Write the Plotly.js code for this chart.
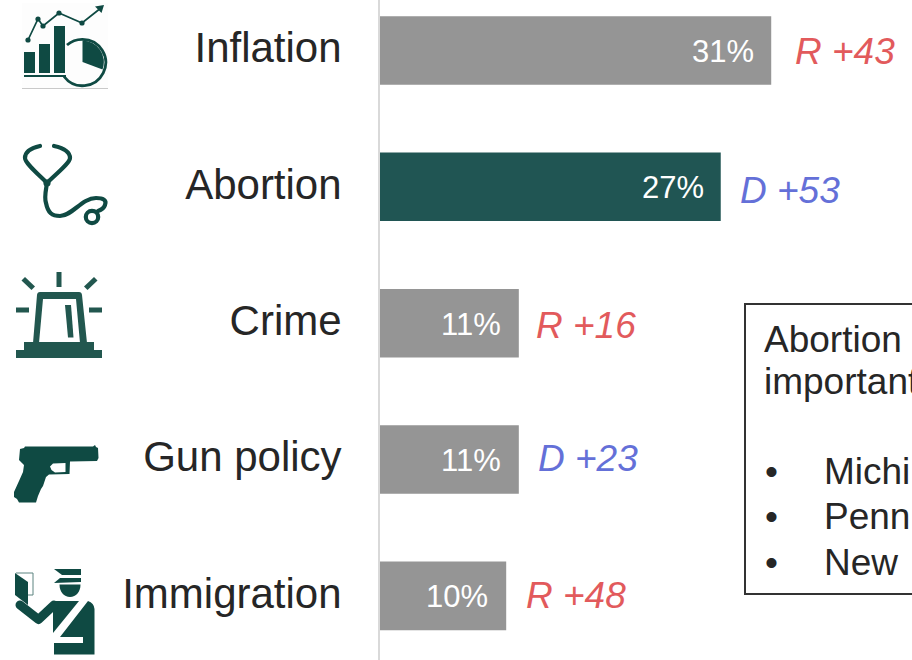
<!DOCTYPE html>
<html>
<head>
<meta charset="utf-8">
<script src="https://cdn.plot.ly/plotly-3.0.1.min.js"></script>
<style>html,body{margin:0;padding:0;background:#fff;overflow:hidden}</style>
</head>
<body>
<div id="chart" style="width:912px;height:660px"></div>
<script>
const categories = ["Inflation", "Abortion", "Crime", "Gun policy", "Immigration"];
const shares = [31, 27, 11, 11, 10];
const margins = ["R +43", "D +53", "R +16", "D +23", "R +48"];
const barColors = ["#959595", "#205553", "#959595", "#959595", "#959595"];
const noteLines = ["Abortion", "important"];
const noteBullets = ["Michi", "Penn", "New"];

const W = 912, H = 660, L = 380;
const px = x => (x - L) / (W - L);
const py = y => 1 - y / H;
const RED = "#E25A5C", BLUE = "#6470D8", INK = "#262626";
const FONT = '"Liberation Sans", Arial, sans-serif';
const C = "#0F4A43";

function icon(x, y, w, h, body) {
  const svg = `<svg xmlns="http://www.w3.org/2000/svg" width="${w*3}" height="${h*3}" viewBox="${x} ${y} ${w} ${h}">${body}</svg>`;
  return {
    source: "data:image/svg+xml;charset=utf-8," + encodeURIComponent(svg),
    xref: "paper", yref: "paper",
    x: px(x), y: py(y), sizex: w / (W - L), sizey: h / H,
    sizing: "stretch", xanchor: "left", yanchor: "top", layer: "above"
  };
}

const inflationIcon = `
<rect x="22" y="3" width="86" height="85" fill="#fdfdfd"/>
<path d="M22 88.5H108" stroke="#c9c9c9" stroke-width="1"/>
<g fill="${C}">
<rect x="24" y="52" width="11" height="21"/><rect x="39" y="44" width="11" height="29"/><rect x="54" y="26" width="11" height="47"/>
<rect x="24" y="75" width="42" height="2"/>
<path d="M82.5 40.5 L82.5 62 L102.5 69.5 A 21.5 21.5 0 0 0 82.5 40.5Z"/>
<circle cx="28" cy="40" r="2.6"/><circle cx="38" cy="19" r="2.6"/><circle cx="43" cy="26" r="2.6"/><circle cx="59" cy="13" r="2.6"/><circle cx="82" cy="23" r="2.6"/>
<path d="M104 5 L95 6.5 L101.5 13Z"/>
</g>
<path d="M28 40L38 19L43 26L59 13L82 23L99 9.5" fill="none" stroke="${C}" stroke-width="1.7"/>
<path d="M67 45 A 23.2 23.2 0 0 1 82.5 39.3 A 23.2 23.2 0 1 1 64 76.5" fill="none" stroke="${C}" stroke-width="2.8"/>`;

const abortionIcon = `
<g fill="none" stroke="${C}" stroke-width="4.2" stroke-linecap="round" stroke-linejoin="round">
<path d="M40 146 C31 148 25 152 25 158 C25 163 38 174 47 183 C56 174 70 163 70 158 C70 152 63 148 54 146"/>
<path d="M47 183 C46 190 44 197 46 203 C48 213 52 216 60 216 C72 216 82 198 96 198 C103 198 107 200 105 205 C104 208 101 210 98 211"/>
<circle cx="92" cy="217" r="6.2"/>
</g>
<circle cx="47" cy="183" r="3.6" fill="${C}"/>`;

const crimeC = "#22574F";
const crimeIcon = `
<g fill="${crimeC}">
<rect x="56.5" y="272" width="5" height="15"/><rect x="16" y="307.5" width="13" height="5"/><rect x="89" y="307.5" width="13" height="5"/>
<path d="M21.5 280.5L25 277L35 286.5L31.5 290Z"/><path d="M97.5 280.5L94 277L84 286.5L87.5 290Z"/>
<path fill-rule="evenodd" d="M33 343L37 295Q37.3 292 40 292H79Q81.7 292 82 295L87 343ZM39 343H80L76 299H43Z"/>
<path d="M65 305L71 305L73.5 337.5L68 337.5Z"/>
<rect x="24" y="342" width="70" height="9"/><rect x="16" y="350" width="86" height="8"/>
</g>`;

const gunIcon = `
<path fill="${C}" fill-rule="evenodd" d="M20 449L24 448L25 446.5L93 446.5L95 445L96 447L98 448L98.5 458L97 461L70 461.5L69.5 474L49 474.5L46 477L43 486L41 489L38 496L36 502.5L19 502.5L17 499L14 497L14 492L19 481L23 472L24 465L19 460ZM50 466.5L53 463.5L65.5 463L65.5 472L55 472.5L51.5 470Z"/>`;

const officerIcon = `
<g fill="${C}">
<path d="M15 573L28 582L28 605L15 595Z"/>
<path d="M54 569H81V575H62Z"/><path d="M54 583L60 578H81V582Z"/>
<path d="M59.5 584.5H80.5C80.5 592 76 597 70 597C64 597 59.5 592 59.5 584.5Z"/>
<path d="M53 601H79L53 633Z"/>
<path d="M88 601Q94 603 94.5 609V654.5H54V643H83V637H60Z"/>
</g>
<path d="M16 573H33V595H28" fill="none" stroke="#5c8480" stroke-width="1"/>
<path d="M20 605L38.5 619.5L54 605" fill="none" stroke="${C}" stroke-width="9" stroke-linecap="round" stroke-linejoin="round"/>`;

const images = [
  icon(20, 0, 90, 92, inflationIcon),
  icon(20, 140, 92, 88, abortionIcon),
  icon(12, 268, 94, 94, crimeIcon),
  icon(10, 442, 92, 64, gunIcon),
  icon(10, 565, 90, 93, officerIcon)
];

// Per-row pixel nudges of the labels, as placed by hand in the source slide.
const valueShift = [-15, -15, -16, -16, -16];
const marginShiftX = [22, 17, 15, 17, 18];
const marginShiftY = [-1, -4, -2, 1, 0];

const annotations = [];
categories.forEach((c, i) => {
  annotations.push({
    xref: "x", yref: "y", x: shares[i], y: c, xanchor: "right", yanchor: "middle",
    xshift: valueShift[i], yshift: -1, showarrow: false, text: shares[i] + "%",
    font: { family: FONT, size: 31, color: "#ffffff" }
  });
  annotations.push({
    xref: "x", yref: "y", x: shares[i], y: c, xanchor: "left", yanchor: "middle",
    xshift: marginShiftX[i], yshift: marginShiftY[i], showarrow: false, text: "<i>" + margins[i] + "</i>",
    font: { family: FONT, size: 37, color: margins[i][0] === "R" ? RED : BLUE }
  });
});
const noteFont = { family: FONT, size: 37, color: INK };
const noteY = [339, 381];
noteLines.forEach((t, i) => annotations.push({
  xref: "paper", yref: "paper", x: px(762), y: py(noteY[i]), xanchor: "left", yanchor: "middle",
  showarrow: false, text: t, font: noteFont, align: "left"
}));
const bulletY = [471, 516, 562];
noteBullets.forEach((t, i) => {
  annotations.push({
    xref: "paper", yref: "paper", x: px(771), y: py(bulletY[i]), xanchor: "center", yanchor: "middle",
    showarrow: false, text: "•", font: noteFont
  });
  annotations.push({
    xref: "paper", yref: "paper", x: px(822), y: py(bulletY[i]), xanchor: "left", yanchor: "middle",
    showarrow: false, text: t, font: noteFont, align: "left"
  });
});

const trace = {
  type: "bar", orientation: "h", x: shares, y: categories,
  marker: { color: barColors, line: { width: 0 } },
  hoverinfo: "skip"
};

const layout = {
  width: W, height: H,
  margin: { l: L, r: 0, t: 0, b: 0, pad: 0 },
  paper_bgcolor: "#ffffff", plot_bgcolor: "#ffffff",
  showlegend: false, bargap: 0.497,
  xaxis: { range: [0, (W - L) / 12.62], visible: false, fixedrange: true },
  yaxis: {
    type: "category", categoryorder: "array", categoryarray: categories,
    range: [4.47, -0.37], showgrid: false, zeroline: false,
    showline: true, linecolor: "#D9D9D9", linewidth: 2,
    ticks: "", ticklabelstandoff: 28, ticklabelshift: 3, fixedrange: true,
    tickfont: { family: FONT, size: 42, color: INK }
  },
  shapes: [{
    type: "rect", xref: "paper", yref: "paper",
    x0: px(745), x1: px(1000), y0: py(304), y1: py(594),
    line: { color: "#333333", width: 2 }, fillcolor: "#ffffff", layer: "above"
  }],
  images, annotations
};
Plotly.newPlot("chart", [trace], layout, { displayModeBar: false, staticPlot: true });
</script>
</body>
</html>
